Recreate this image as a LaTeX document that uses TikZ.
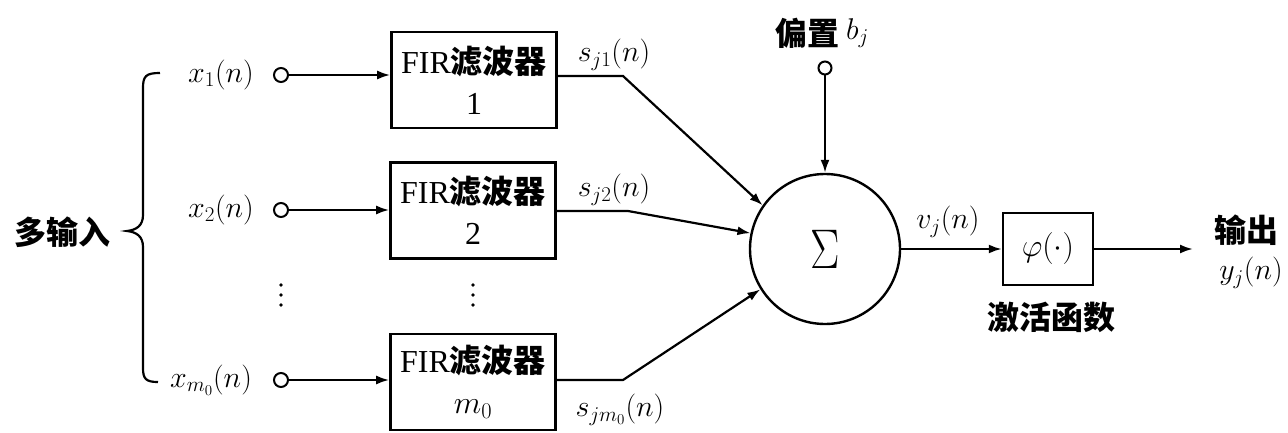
\RequirePackage{fix-cm}
\documentclass[tikz,border=0pt]{standalone}
\usepackage{fontspec}
\usepackage{graphicx}
\setmainfont{Liberation Serif}
\newfontfamily\cjk{Noto Sans CJK SC}
\usetikzlibrary{arrows.meta}
\begin{document}
\begin{tikzpicture}[x=1pt,y=-1pt,
  lbl/.style={inner sep=0pt, font=\fontsize{30}{32}\selectfont},
  zh/.style={inner sep=0pt, font=\fontsize{32}{34}\selectfont\cjk\bfseries},
  firbox/.style={draw, line width=2.6pt, minimum width=165pt, minimum height=96pt, align=center, inner sep=0pt, font=\fontsize{32}{41}\selectfont},
  port/.style={draw, circle, line width=2pt, minimum size=14pt, inner sep=0pt},
  conn/.style={line width=2.2pt, -{Latex[length=13pt,width=9pt]}},
  wire/.style={line width=2.2pt},
  dotmark/.style={fill=black},
]
\useasboundingbox (0,0) rectangle (1288,433);

% left label and brace
\node[zh] (multi) at (62,232) {多输入};
\draw[wire] (160,73) .. controls (146,73) and (143,76) .. (143,88) -- (143,215)
  .. controls (143,226) and (136,230) .. (127,231)
  .. controls (136,232) and (143,236) .. (143,247) -- (143,368)
  .. controls (143,379) and (146,382) .. (158,382);

% inputs
\node[lbl] (lx1) at (221,75) {$x_1(n)$};
\node[lbl] (lx2) at (221,210) {$x_2(n)$};
\node[lbl] (lx3) at (211,380) {$x_{m_0}(n)$};
\node[port] (c1) at (281,75) {};
\node[port] (c2) at (281,210) {};
\node[port] (c3) at (281,380) {};
\foreach \yy in {285,295,305} {
  \fill[dotmark] (281,\yy) circle[radius=1.8pt];
  \fill[dotmark] (473,\yy) circle[radius=1.8pt];
}

% FIR boxes
\node[firbox] (box1) at (474,80) {FIR{\cjk\bfseries\fontsize{32}{41}\selectfont 滤波器}\\1};
\node[firbox] (box2) at (473,210.5) {FIR{\cjk\bfseries\fontsize{32}{41}\selectfont 滤波器}\\2};
\node[firbox] (box3) at (473,382) {FIR{\cjk\bfseries\fontsize{32}{41}\selectfont 滤波器}\\$m_0$};

\draw[conn] (c1) -- (c1 -| box1.west);
\draw[conn] (c2) -- (c2 -| box2.west);
\draw[conn] (c3) -- (c3 -| box3.west);

% summing node
\node[draw, circle, line width=2.4pt, minimum size=150pt, inner sep=0pt] (sum) at (825,249)
  {\fontsize{44}{44}\selectfont\scalebox{1}[1.27]{$\Sigma$}};

\coordinate (k1) at (623,76);
\coordinate (k2) at (628,211);
\coordinate (k3) at (623,380);
\draw[conn] (box1.east |- k1) -- (k1) -- (sum.145);
\draw[conn] (box2.east |- k2) -- (k2) -- (sum.168);
\draw[conn] (box3.east |- k3) -- (k3) -- (sum.212);

\node[lbl] (ls1) at (614,55) {$s_{j1}(n)$};
\node[lbl] (ls2) at (614,190) {$s_{j2}(n)$};
\node[lbl] (ls3) at (620,410) {$s_{jm_0}(n)$};

% bias
\node[zh, anchor=east] (biaszh) at (840,33) {偏置};
\node[lbl, anchor=west] (biasb) at (846,33) {$b_j$};
\node[port, minimum size=13pt] (bias) at (825,68) {};
\draw[conn] (bias) -- (sum);

% activation
\node[draw, line width=2.4pt, minimum width=90pt, minimum height=72pt, inner sep=0pt,
  font=\fontsize{32}{34}\selectfont] (phi) at (1048,249) {$\varphi(\cdot)$};
\draw[conn] (sum.east) -- (phi.west);
\node[lbl] (lv) at (948,222) {$v_j(n)$};
\node[zh] (act) at (1051,317) {激活函数};

\coordinate (out) at (1193,249);
\draw[conn] (phi.east) -- (out);
\node[zh] (outzh) at (1246,230) {输出};
\node[lbl] (ly) at (1251,273) {$y_j(n)$};
\end{tikzpicture}
\end{document}
